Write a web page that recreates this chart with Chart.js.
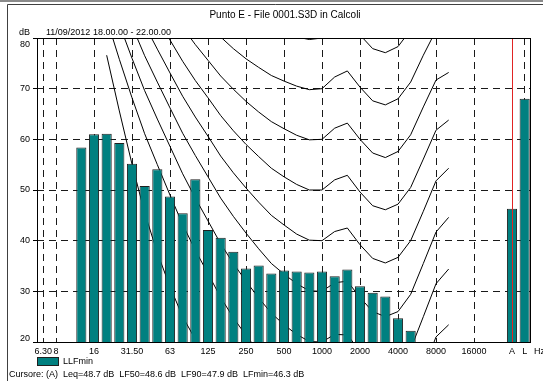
<!DOCTYPE html>
<html>
<head>
<meta charset="utf-8">
<script src="https://cdn.jsdelivr.net/npm/chart.js@4.4.1/dist/chart.umd.min.js"></script>
<style>
  html, body { margin: 0; padding: 0; background: #ffffff; }
  #wrap { position: relative; width: 543px; height: 381px; overflow: hidden; }
  canvas { display: block; }
</style>
</head>
<body>
<div id="wrap"><canvas id="chart" width="543" height="381"></canvas></div>
<script>
// Third-octave bands, an empty spacer slot, then the A and L overall levels
const bands = ['6.3','8','10','12.5','16','20','25','31.5','40','50','63','80','100','125','160','200','250','315','400','500','630','800','1000','1250','1600','2000','2500','3150','4000','5000','6300','8000','10000','12500','16000','20000','','A','L'];
const bandTicks = ['6.30','8','','','16','','','31.50','','','63','','','125','','','250','','','500','','','1000','','','2000','','','4000','','','8000','','','16000','','','A','L'];

// Minimum levels per band (dB)
const llfMin = [null,null,null,58.4,61.0,61.1,59.3,55.2,50.8,54.1,48.7,45.4,52.1,42.1,40.6,37.8,34.5,35.1,33.5,34.1,33.9,33.7,33.9,33.0,34.3,31.0,29.7,29.0,24.7,22.2,null,null,null,null,null,null,null,46.3,68.0];

// Equal-loudness contours, 20 Hz .. 10 kHz (dB)
const contourBands = ['20','25','31.5','40','50','63','80','100','125','160','200','250','315','400','500','630','800','1000','1250','1600','2000','2500','3150','4000','5000','6300','8000','10000'];
const phon0  = [76.6,65.6,55.1,45.5,37.6,30.9,25.0,20.5,16.7,13.1,10.1,7.6,5.1,3.1,1.5,0.3,-0.3,0.0,1.0,-1.2,-4.1,-7.1,-9.0,-8.5,-4.5,3.3,9.8,10.5];
const phon10 = [83.8,75.8,68.2,61.1,55.0,49.0,43.2,38.1,33.5,28.8,24.8,21.3,18.1,15.1,13.0,11.2,10.0,10.0,11.3,10.4,7.3,4.5,3.0,3.8,7.5,14.4,21.0,23.4];
const phon20 = [89.6,82.7,76.0,69.6,64.0,58.6,53.2,48.4,43.9,39.4,35.5,32.0,28.7,25.7,23.4,21.5,20.1,20.0,21.5,21.4,18.2,15.4,14.3,15.1,18.6,25.0,31.5,34.4];
const phon30 = [94.9,88.5,82.4,76.5,71.3,66.2,61.2,56.8,52.6,48.4,44.8,41.5,38.4,35.5,33.4,31.5,30.1,30.0,31.7,32.0,28.8,26.0,25.0,26.0,29.4,35.5,41.7,44.6];
const phon40 = [99.9,93.9,88.2,82.6,77.8,73.1,68.5,64.4,60.6,56.7,53.4,50.4,47.6,45.0,43.1,41.3,40.1,40.0,41.8,42.5,39.2,36.5,35.6,36.7,40.0,45.8,51.8,54.3];
const phon50 = [104.7,99.1,93.7,88.5,84.0,79.6,75.4,71.6,68.2,64.7,61.7,59.0,56.6,54.3,52.6,51.1,50.0,50.0,52.0,52.9,49.6,46.9,46.1,47.2,50.5,56.1,61.8,63.8];
const phon60 = [109.5,104.2,99.1,94.2,90.0,85.9,82.1,78.7,75.6,72.5,69.9,67.5,65.4,63.5,62.1,60.8,59.9,60.0,62.2,63.2,60.0,57.3,56.4,57.6,60.9,66.4,71.7,73.2];
const phon70 = [114.3,109.3,104.4,99.8,95.9,92.2,88.6,85.6,82.9,80.2,77.9,75.9,74.2,72.6,71.5,70.5,69.8,70.0,72.3,73.5,70.3,67.6,66.8,68.0,71.3,76.6,81.5,82.5];
const phon80 = [119.0,114.2,109.7,105.3,101.7,98.4,95.2,92.5,90.1,87.8,85.9,84.3,82.9,81.7,80.9,80.2,79.7,80.0,82.5,83.7,80.6,77.9,77.1,78.3,81.6,86.8,91.4,91.7];
const contours = [phon0, phon10, phon20, phon30, phon40, phon50, phon60, phon70, phon80];
const contourNames = ['0 phon','10 phon','20 phon','30 phon','40 phon','50 phon','60 phon','70 phon','80 phon'];

const yTicks = [20, 30, 40, 50, 60, 70, 80];

const titleText = 'Punto E - File 0001.S3D in Calcoli';
const periodText = '11/09/2012 18.00.00 - 22.00.00';
const unitText = 'dB';
const freqUnitText = 'Hz';
const seriesName = 'LLFmin';
const cursorBand = 'A';
const cursorText = 'Cursore: (A)  Leq=48.7 dB  LF50=48.6 dB  LF90=47.9 dB  LFmin=46.3 dB';

const FONT = '"Liberation Sans", Arial, sans-serif';
const TEAL = '#008080';
const DASH = [7, 5];

// Frame, cursor line and the surrounding captions
const decor = {
  id: 'decor',
  beforeDraw(chart) {
    const { ctx } = chart;
    ctx.save();
    ctx.fillStyle = '#8a8a8a';
    ctx.fillRect(0, 0, chart.width, 2);
    ctx.strokeStyle = '#404040';
    ctx.lineWidth = 1;
    ctx.beginPath();
    ctx.moveTo(7.5, chart.height);
    ctx.lineTo(7.5, 4.5);
    ctx.lineTo(chart.width, 4.5);
    ctx.stroke();
    ctx.restore();
  },
  afterDatasetsDraw(chart) {
    const { ctx, chartArea: a, scales: { x } } = chart;
    ctx.save();
    const xc = Math.round(x.getPixelForValue(bands.indexOf(cursorBand))) + 0.5;
    ctx.strokeStyle = '#e02424';
    ctx.lineWidth = 1;
    ctx.beginPath();
    ctx.moveTo(xc, a.top);
    ctx.lineTo(xc, a.bottom);
    ctx.stroke();
    ctx.strokeStyle = '#000';
    ctx.strokeRect(a.left + 0.5, a.top + 0.5, a.right - a.left - 1, a.bottom - a.top);
    ctx.restore();
  },
  afterDraw(chart) {
    const { ctx, chartArea: a, scales: { y } } = chart;
    ctx.save();
    ctx.fillStyle = '#000';
    ctx.textBaseline = 'middle';

    ctx.font = '10px ' + FONT;
    ctx.textAlign = 'center';
    ctx.fillText(titleText, 285, 15);

    ctx.font = '9px ' + FONT;
    ctx.textAlign = 'right';
    ctx.fillText(unitText, 30, 33);
    yTicks.forEach(v => {
      let py = y.getPixelForValue(v);
      if (v === y.max) py += 6.5;
      if (v === y.min) py -= 3.5;
      ctx.fillText(String(v), 30, py);
    });

    ctx.textAlign = 'left';
    ctx.fillText(periodText, 46, 33);
    ctx.fillText(freqUnitText, 534, 352);

    // legend entry
    ctx.fillStyle = TEAL;
    ctx.fillRect(a.left, 357, 22, 9);
    ctx.strokeStyle = '#202020';
    ctx.strokeRect(a.left + 0.5, 357.5, 21, 8);
    ctx.fillStyle = '#000';
    ctx.fillText(seriesName, 63, 362);

    ctx.fillText(cursorText, 9, 375);
    ctx.restore();
  }
};

const datasets = [
  {
    type: 'bar',
    label: seriesName,
    data: llfMin,
    backgroundColor: TEAL,
    borderColor: '#202020',
    borderWidth: 1,
    borderSkipped: false,
    barPercentage: 0.8,
    categoryPercentage: 1.0,
    order: 1
  }
].concat(contours.map((row, k) => ({
  type: 'line',
  label: contourNames[k],
  data: contourBands.map((b, i) => ({ x: b, y: row[i] })),
  borderColor: '#000',
  borderWidth: 1,
  pointRadius: 0,
  tension: 0,
  fill: false,
  order: 2
})));

new Chart(document.getElementById('chart'), {
  type: 'bar',
  data: { labels: bands, datasets },
  options: {
    responsive: false,
    animation: false,
    devicePixelRatio: 1,
    layout: { padding: { left: 0, right: 12, top: 38, bottom: 23 } },
    plugins: { legend: { display: false }, title: { display: false }, tooltip: { enabled: false } },
    scales: {
      x: {
        type: 'category',
        offset: true,
        grid: {
          offset: false,
          drawTicks: false,
          lineWidth: 1,
          borderDash: DASH,
          color: ctx => (bandTicks[ctx.index] && bands[ctx.index] !== cursorBand) ? '#1a1a1a' : 'rgba(0,0,0,0)'
        },
        border: { display: false, dash: DASH },
        ticks: {
          autoSkip: false,
          maxRotation: 0,
          minRotation: 0,
          padding: 4,
          color: '#000',
          font: { family: FONT, size: 9 },
          callback: (v, i) => bandTicks[i]
        },
        afterFit: s => { s.height = 16; }
      },
      y: {
        min: 20,
        max: 80,
        ticks: { display: false, stepSize: 10 },
        grid: {
          color: '#1a1a1a',
          lineWidth: 1,
          borderDash: DASH,
          drawTicks: true,
          tickLength: 4,
          tickColor: '#000',
          tickBorderDash: []
        },
        border: { display: false, dash: DASH },
        afterFit: s => { s.width = 37; }
      }
    }
  },
  plugins: [decor]
});
</script>
</body>
</html>
